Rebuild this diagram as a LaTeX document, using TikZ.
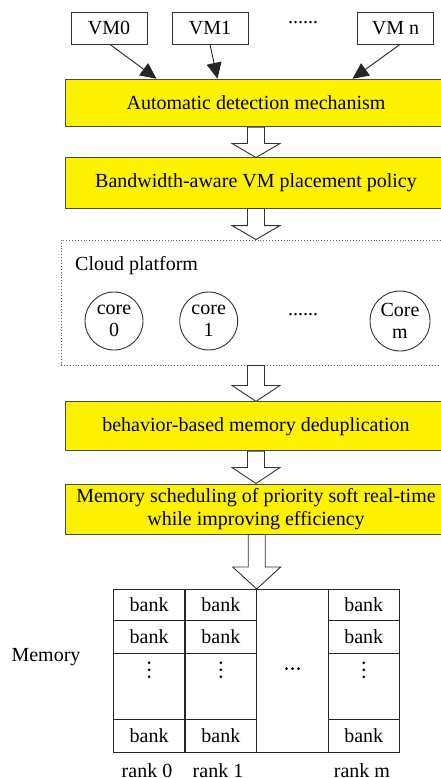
\documentclass[tikz,border=0pt]{standalone}
\usepackage{fontspec}
\setmainfont{Liberation Serif}
\usetikzlibrary{calc,arrows.meta}

\tikzset{
  vmbox/.style={draw=black!80, line width=0.9pt, fill=white, minimum width=76pt, minimum height=32pt, inner sep=0pt},
  stage/.style={draw=black!70, line width=1pt, fill=yellow, minimum width=382pt, inner sep=0pt, align=center},
  platform/.style={draw=black!60, dotted, line width=0.9pt, minimum width=390pt, minimum height=125pt, inner sep=0pt},
  core/.style={draw=black!80, line width=0.9pt, circle, minimum size=58pt, inner sep=0pt, align=center},
  feed/.style={draw=black!85, line width=0.9pt, -{Triangle[length=16pt,width=15pt]}},
  fat/.style={draw=black!80, line width=0.9pt, fill=white, line join=miter},
  cell/.style={draw=black!85, line width=1pt, minimum width=71.6pt, inner sep=0pt},
  label/.style={inner sep=0pt},
  dot/.style={fill=black, circle, inner sep=0pt, minimum size=3pt}
}

% hollow block arrow from the bottom of #1 down to #2, head length #3
\newcommand\fatarrow[3]{%
  \path[fat] let \p1=(#1.south), \p2=(#2) in
    (\x2-8.5pt,\y1) -- (\x2-8.5pt,\y2+#3pt) -- (\x2-24pt,\y2+#3pt) -- (\x2,\y2)
    -- (\x2+24pt,\y2+#3pt) -- (\x2+8.5pt,\y2+#3pt) -- (\x2+8.5pt,\y1) -- cycle;}

\begin{document}
\begin{tikzpicture}[x=1pt,y=-1pt,font=\fontsize{20}{24.5}\selectfont]
\useasboundingbox (0,0) rectangle (441,778);

% virtual machines
\node[vmbox] (vm0) at (109,28) {VM0};
\node[vmbox] (vm1) at (210,28) {VM1};
\node[label] (vmdots) at (303,23) {......};
\node[vmbox] (vmn) at (395.5,28) {VM n};

% processing stages
\node[stage, minimum height=47.5pt] (det) at (256,103) {Automatic detection mechanism};
\node[stage, minimum height=50pt] (bw) at (256,183) {Bandwidth-aware VM placement policy};
\node[platform] (cloud) at (256,302.5) {};
\node[label, anchor=west] (cloudlbl) at (75,266) {Cloud platform};
\node[core] (c0) at (114,321) {core\\[-3pt]0};
\node[core] (c1) at (208.7,321) {core\\[-3pt]1};
\node[label] (cdots) at (303,315) {......};
\node[core, minimum size=60pt] (cm) at (400,321) {Core\\[-3pt]m};
\node[stage, minimum height=48.7pt] (dedup) at (256,426.3) {behavior-based memory deduplication};
\node[stage, minimum height=50pt] (sched) at (256,509) {Memory scheduling of priority soft real-time\\[-1pt]while improving efficiency};

% VM requests into the detection stage
\coordinate (in0) at ($(det.north west)+(92,0)$);
\coordinate (in1) at ($(det.north west)+(153,0)$);
\coordinate (inn) at ($(det.north west)+(288,0)$);
\draw[feed] ($(vm0.south)+(1,0)$) -- (in0);
\draw[feed] (vm1.south) -- (in1);
\draw[feed] ($(vmn.south)+(4.5,0)$) -- (inn);

% memory organisation: ranks of banks
\coordinate (memtop) at (256.7,589);
\foreach \cx/\nm in {149.15/a,220.85/b,363.8/m}{
  \node[cell, minimum height=31.7pt] (\nm1) at (\cx,604.85) {bank};
  \node[cell, minimum height=32.6pt] (\nm2) at (\cx,637) {bank};
  \node[cell, minimum height=65.7pt] (\nm3) at (\cx,686.15) {};
  \node[cell, minimum height=33pt] (\nm4) at (\cx,735.5) {bank};
  \foreach \dy in {10,17,24}
    \node[dot] at ($(\nm3.north)+(0,\dy)$) {};
}
\node[cell, minimum height=163pt] (gap) at (292.5,670.5) {};
\foreach \dx in {-6,0,6}
  \node[dot] at ($(gap.center)+(\dx,-2)$) {};
\node[label] (memlbl) at (46,657) {Memory};
\node[label] (r0) at (147,771) {rank 0};
\node[label] (r1) at (218,771) {rank 1};
\node[label] (rm) at (362,771) {rank m};

% hollow flow arrows between the stages
\fatarrow{det}{bw.north}{14}
\fatarrow{bw}{cloud.north}{14}
\fatarrow{cloud}{dedup.north}{16}
\fatarrow{dedup}{sched.north}{16}
\fatarrow{sched}{memtop}{22}
\end{tikzpicture}
\end{document}
